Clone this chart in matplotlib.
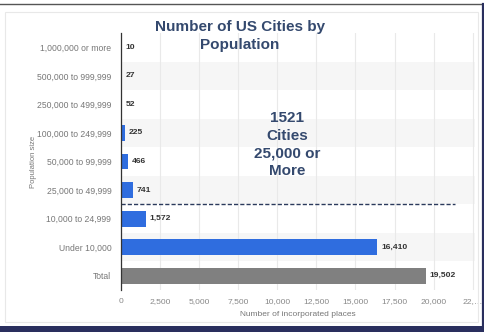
import matplotlib
matplotlib.use("Agg")
import matplotlib.pyplot as plt
from matplotlib.patches import Rectangle
from matplotlib.lines import Line2D

categories = ["1,000,000 or more", "500,000 to 999,999", "250,000 to 499,999",
              "100,000 to 249,999", "50,000 to 99,999", "25,000 to 49,999",
              "10,000 to 24,999", "Under 10,000", "Total"]
values = [10, 27, 52, 225, 466, 741, 1572, 16410, 19502]
value_labels = ["10", "27", "52", "225", "466", "741", "1,572", "16,410", "19,502"]
xticks = [0, 2500, 5000, 7500, 10000, 12500, 15000, 17500, 20000, 22500]
xtick_labels = ["0", "2,500", "5,000", "7,500", "10,000", "12,500", "15,000",
                "17,500", "20,000", "22,…"]

W, H = 485, 336
fig = plt.figure(figsize=(W / 100, H / 100), dpi=100)
fig.patch.set_facecolor("white")
plt.rcParams['font.family'] = ['Liberation Sans', 'DejaVu Sans']

ax = fig.add_axes([121 / W, 1 - 290 / H, (475 - 121) / W, (290 - 33) / H])
ax.set_facecolor("white")

n = len(categories)
for i in range(n):
    if i % 2 == 1:
        ax.axhspan(i - 0.5, i + 0.5, color="#f6f6f6", zorder=0, lw=0)

colors = ["#2f6ddf"] * (n - 1) + ["#808080"]
ypos = list(range(n))
ax.barh(ypos, values, height=0.56, color=colors, zorder=3)

xmax = 22650
ax.set_xlim(0, xmax)
ax.set_ylim(n - 0.5, -0.5)

for y, v, lab in zip(ypos, values, value_labels):
    ax.text(v + 250, y, lab, va="center", ha="left", fontsize=6.1,
            fontweight="bold", color="#333333", zorder=4)

ax.set_yticks(ypos)
ax.set_yticklabels(categories, fontsize=6.2, color="#777777")
ax.set_xticks(xticks)
ax.set_xticklabels(xtick_labels, fontsize=6.1, color="#888888")
ax.tick_params(axis="both", length=0)
ax.tick_params(axis="y", pad=7)
ax.tick_params(axis="x", pad=6)

ax.grid(axis="x", color="#e9e9e9", lw=0.8, zorder=1)
ax.set_axisbelow(True)
for s in ["top", "right", "bottom"]:
    ax.spines[s].set_visible(False)
ax.spines["left"].set_color("#333333")
ax.spines["left"].set_linewidth(0.9)
ax.spines["left"].set_zorder(5)

ax.set_xlabel("Number of incorporated places", fontsize=6, color="#777777", labelpad=4)
ax.set_ylabel("Population size", fontsize=5.5, color="#777777", labelpad=0)

ax.axhline(5.5, xmin=0, xmax=(455 - 121) / (475 - 121), color="#2b3a5c",
           lw=1.0, ls=(0, (3, 1.5)), zorder=4)

fig.text(240 / W, 1 - 36 / H, "Number of US Cities by\nPopulation", ha="center",
         va="center", fontsize=11, fontweight="bold", color="#34496e",
         linespacing=1.45)
fig.text(287 / W, 1 - 144.5 / H, "1521\nCities\n25,000 or\nMore", ha="center",
         va="center", fontsize=11, fontweight="bold", color="#34496e",
         linespacing=1.35)

# screenshot frame
fig.add_artist(Rectangle((5 / W, 1 - 322 / H), 473 / W, 310 / H,
                         transform=fig.transFigure, fill=False,
                         edgecolor="#e8e8e8", lw=0.8))
fig.add_artist(Line2D([0, 483 / W], [1 - 4 / H, 1 - 4 / H],
                      transform=fig.transFigure, color="#555555", lw=1.0))
fig.add_artist(Line2D([483 / W, 483 / W], [1 - 4 / H, 1 - 328 / H],
                      transform=fig.transFigure, color="#2a2f5e", lw=1.6))
fig.add_artist(Rectangle((0, 1 - 332 / H), 485 / W, 6 / H,
                         transform=fig.transFigure, color="#2a2f5e", lw=0))

fig.savefig("out.png", dpi=100, facecolor="white")
